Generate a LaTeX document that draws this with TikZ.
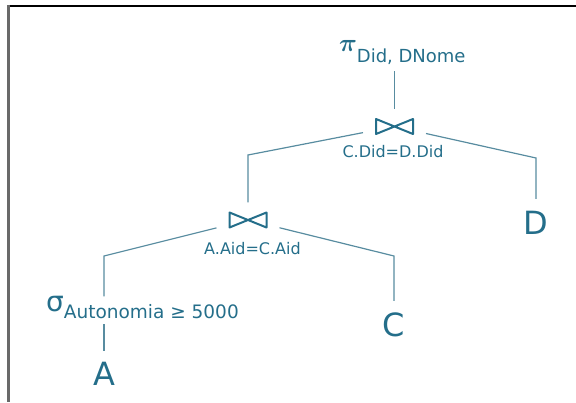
\documentclass[tikz,border=0pt]{standalone}
\usepackage{fontspec}
\setmainfont{DejaVu Sans}
\definecolor{treeblue}{RGB}{36,110,138}
\definecolor{treeline}{RGB}{88,140,160}
\definecolor{frame}{RGB}{105,105,105}
\tikzstyle{leaf} = [text=treeblue, font=\fontsize{32}{32}\selectfont, inner sep=0pt, outer sep=12pt]
\tikzstyle{joinbox} = [minimum width=37pt, minimum height=15pt, inner sep=0pt, outer xsep=13pt, outer ysep=10pt]
\tikzstyle{cond} = [text=treeblue, font=\fontsize{16}{16}\selectfont, inner sep=0pt]
\tikzstyle{oper} = [text=treeblue, inner sep=0pt]
\tikzstyle{edge} = [draw=treeline, line width=1.2pt]
\tikzstyle{bow} = [draw=treeblue, line width=2pt, line join=round]
\newcommand{\joinmark}[1]{\draw[bow] (#1) +(-18.5,7.5) -- +(18.5,-7.5) -- +(18.5,7.5) -- +(-18.5,-7.5) -- cycle;}

\begin{document}
\begin{tikzpicture}[x=1pt, y=1pt]
            \useasboundingbox (0,0) rectangle (576,402);
            % frame of the screenshot
            \draw[black, line width=2pt] (7.5,396) -- (576,396);
            \draw[frame, line width=2.5pt] (8.5,397) -- (8.5,0);

            \node [oper, anchor=base west, outer sep=6pt] at (333,350) (proj) {{\fontsize{27}{27}\selectfont\boldmath$\pi$}\raisebox{-11pt}{\fontsize{18}{18}\selectfont Did, DNome}};
            \node [joinbox] at (394.5,275.5) (j1) {};
            \node [cond, anchor=base] at (393,244) (cond1) {C.Did=D.Did};
            \node [joinbox] at (248,182) (j2) {};
            \node [cond, anchor=base] at (252.5,147) (cond2) {A.Aid=C.Aid};
            \node [leaf] at (536,179.5) (D) {D};
            \node [leaf] at (394,77) (C) {C};
            \node [oper, anchor=base west] at (46,90) (sel) {{\fontsize{28}{28}\selectfont σ}\raisebox{-7pt}{\fontsize{18.5}{18.5}\selectfont Autonomia ≥ 5000}};
            \node [leaf, outer sep=11pt] at (104,28.5) (A) {A};

            \coordinate (k1) at (248,247);
            \coordinate (k2) at (536,244);
            \coordinate (k3) at (104,146);
            \coordinate (k4) at (394,146);

            \joinmark{j1}
            \joinmark{j2}

            \draw [edge] (proj.south -| j1) -- (j1);
            \draw [edge] (j1) -- (k1) -- (j2);
            \draw [edge] (j1) -- (k2) -- (D);
            \draw [edge] (j2) -- (k3) -- (k3 |- sel.north);
            \draw [edge] (j2) -- (k4) -- (C);
            \draw [edge, shorten <=5pt] (sel.south -| A) -- (A);
\end{tikzpicture}
\end{document}
